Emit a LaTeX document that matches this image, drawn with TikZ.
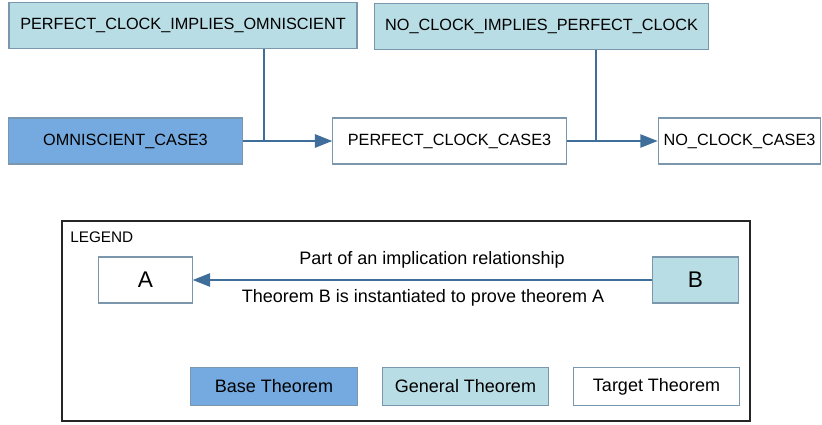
\documentclass[tikz,border=0pt]{standalone}
\usepackage{fontspec}
\setmainfont{Liberation Sans}
\usepackage{xcolor}
\usepackage{tikz}
\usetikzlibrary{shapes.geometric, arrows.meta, positioning, fit, calc}
\definecolor{generalc}{HTML}{B9DDE5}
\definecolor{basec}{HTML}{74AADF}
\definecolor{edgec}{HTML}{7A97AE}
\definecolor{linkc}{HTML}{3F6E9B}

\begin{document}
\begin{tikzpicture}[
    x=0.75pt, y=-0.75pt,
    thm/.style={rectangle, minimum height=34.5pt, text centered, draw=edgec, line width=0.8pt, inner sep=0pt, font=\fontsize{12.2}{14}\selectfont},
    general/.style={thm, fill=generalc},
    base/.style={thm, fill=basec},
    target/.style={thm, fill=white},
    legtext/.style={font=\fontsize{13.5}{16}\selectfont},
    arrow/.style={line width=1.1pt, draw=linkc, -{Triangle[length=13pt, width=10pt]}},
    link/.style={line width=1.1pt, draw=linkc}
]
    \useasboundingbox (0,0) rectangle (822,425);

    % theorem graph
    \node (pcio) [general, minimum width=261pt] at (183,25.5) {PERFECT\_CLOCK\_IMPLIES\_OMNISCIENT};
    \node (ncipc) [general, minimum width=250pt] at (541.5,26.5) {NO\_CLOCK\_IMPLIES\_PERFECT\_CLOCK};
    \node (omni) [base, minimum width=175pt] at (125.5,141) {OMNISCIENT\_CASE3};
    \node (pcc3) [target, minimum width=175pt] at (449.5,141) {PERFECT\_CLOCK\_CASE3};
    \node (ncc3) [target, minimum width=122pt] at (739.5,141) {NO\_CLOCK\_CASE3};

    \coordinate (j1) at (264,141);
    \coordinate (j2) at (596,141);

    \draw [arrow] (omni) -- (pcc3);
    \draw [arrow] (pcc3) -- (ncc3);
    \draw [link] (pcio.south -| j1) -- (j1);
    \draw [link] (ncipc.south -| j2) -- (j2);

    % legend
    \node (legend) [rectangle, draw=black!85, line width=1.5pt, minimum width=516pt, minimum height=150pt] at (405.5,321) {};
    \node (legtitle) [anchor=north west, inner sep=0pt, font=\fontsize{11.5}{13}\selectfont] at (70,232) {LEGEND};
    \node (a) [target, minimum width=70pt, font=\fontsize{17}{20}\selectfont] at (145.5,280) {A};
    \node (b) [general, minimum width=65pt, font=\fontsize{17}{20}\selectfont] at (695.5,280) {B};
    \draw [arrow] (b) -- (a);
    \node (part) [legtext] at (432,260) {Part of an implication relationship};
    \node (inst) [legtext] at (423,298) {Theorem B is instantiated to prove theorem A};

    \node (basekey) [base, legtext, minimum width=125pt, minimum height=28pt] at (274,386.5) {Base Theorem};
    \node (generalkey) [general, legtext, minimum width=125pt, minimum height=28pt] at (465.5,386.5) {General Theorem};
    \node (targetkey) [target, legtext, minimum width=125pt, minimum height=28pt] at (656.5,386.5) {Target Theorem};
\end{tikzpicture}
\end{document}
